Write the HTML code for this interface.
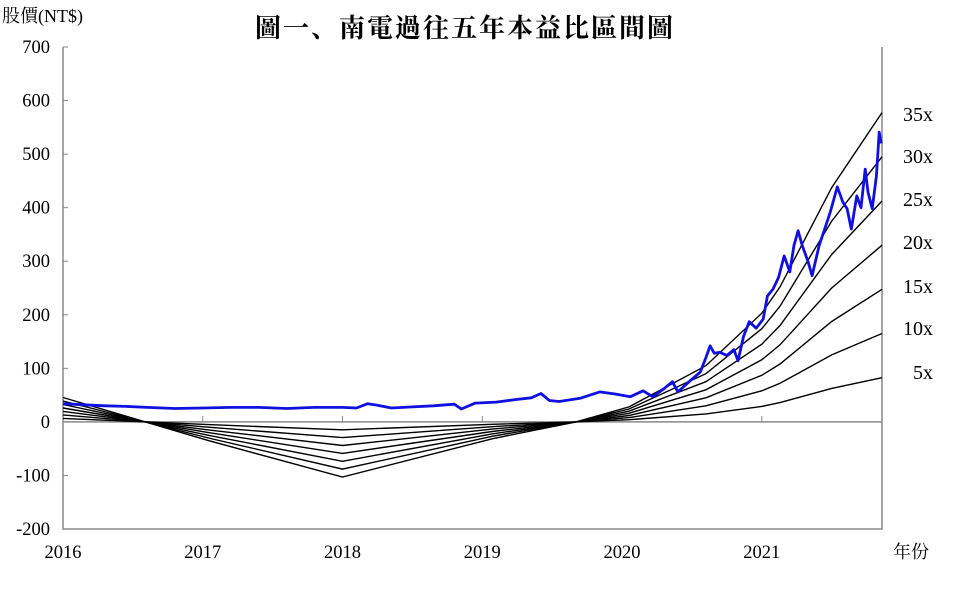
<!DOCTYPE html>
<html><head><meta charset="utf-8"><style>
body{margin:0;background:#fff}
svg text{font-family:"Liberation Serif","Noto Serif CJK SC",serif;fill:#000}
</style></head><body>
<svg width="959" height="584" viewBox="0 0 959 584" xmlns="http://www.w3.org/2000/svg" id="chart"></svg>
<script>
const yTicks=[700,600,500,400,300,200,100,0,-100,-200];
const xTicks=[2016,2017,2018,2019,2020,2021];
const multiples=[5,10,15,20,25,30,35];
const epsYears=[2016,2017.04,2018.0,2019.07,2019.67,2020.05,2020.6,2021.0,2021.13,2021.5,2021.86];
const epsValues=[1.3,-1.0,-2.94,-0.9,0,0.8,3.0,5.8,7.2,12.5,16.5];
const priceYears=[2016,2016.15,2016.3,2016.45,2016.6,2016.8,2017,2017.2,2017.4,2017.6,2017.8,2018.0,2018.1,2018.18,2018.25,2018.35,2018.5,2018.65,2018.8,2018.85,2018.95,2019.1,2019.25,2019.35,2019.42,2019.48,2019.55,2019.7,2019.84,2019.95,2020.06,2020.15,2020.22,2020.3,2020.36,2020.40,2020.48,2020.56,2020.6,2020.63,2020.66,2020.70,2020.75,2020.8,2020.83,2020.87,2020.91,2020.96,2021.01,2021.04,2021.08,2021.12,2021.16,2021.20,2021.23,2021.26,2021.29,2021.33,2021.36,2021.41,2021.45,2021.49,2021.54,2021.58,2021.61,2021.64,2021.68,2021.71,2021.74,2021.76,2021.79,2021.82,2021.84,2021.855];
const priceValues=[34,32,30,29,27,25,26,27,27,25,27,27,26,34,31,26,28,30,33,24,35,37,42,45,53,40,38,44,56,52,47,58,47,62,75,56,75,93,120,142,128,130,124,135,114,160,187,175,192,235,248,270,310,280,330,357,329,300,273,329,360,392,439,410,398,360,422,400,472,429,398,459,541,520];
const multLabels=["5x","10x","15x","20x","25x","30x","35x"];
const X0=63,X1=882,Y0=47,Y1=529;
const xs=v=>X0+(v-2016)/(2021.86-2016)*(X1-X0);
const ys=v=>Y0+(700-v)/900*(Y1-Y0);
const svg=document.getElementById('chart');
const NS="http://www.w3.org/2000/svg";
function mk(t,a,txt){const e=document.createElementNS(NS,t);for(const k in a)e.setAttribute(k,a[k]);if(txt!=null)e.textContent=txt;svg.appendChild(e);return e;}
let e;
e=mk('text',{x:465,y:37,'text-anchor':'middle','font-size':26,'font-weight':'bold','letter-spacing':'2'},'圖一、南電過往五年本益比區間圖');


e=mk('text',{x:2,y:22,'font-size':18},'股價(NT$)');


e=mk('text',{x:893,y:558,'font-size':18},'年份');


e=mk('path',{d:`M${X0},${Y0}V${Y1}H${X1}V${Y0}`,fill:'none',stroke:'#888','stroke-width':1.5});


e=mk('line',{x1:X0,x2:X1,y1:ys(0),y2:ys(0),stroke:'#888','stroke-width':1.5});


yTicks.forEach(v=>{
 e=mk('line',{x1:X0,x2:X0+5,y1:ys(v),y2:ys(v),stroke:'#888'});
 
 
 e=mk('text',{x:50,y:ys(v)+6,'text-anchor':'end','font-size':18.5},String(v));
 
 
});
xTicks.forEach(v=>{
 e=mk('line',{x1:xs(v),x2:xs(v),y1:ys(0),y2:ys(0)-6,stroke:'#888'});
 
 
 e=mk('text',{x:xs(v),y:558,'text-anchor':'middle','font-size':18.5},String(v));
 
 
});
multiples.forEach((m,i)=>{
 const d=epsYears.map((t,j)=>(j?'L':'M')+xs(t).toFixed(1)+','+ys(epsValues[j]*m).toFixed(1)).join('');
 e=mk('path',{d,fill:'none',stroke:'#000','stroke-width':1.4});
 
 
});
const labY=[373,329,287,243,200,157,115];
multLabels.forEach((l,i)=>{
 e=mk('text',{x:933,y:labY[i]+6,'text-anchor':'end','font-size':20},l);
 
 
});
const pd=priceYears.map((t,j)=>(j?'L':'M')+xs(t).toFixed(1)+','+ys(priceValues[j]).toFixed(1)).join('');
e=mk('path',{d:pd,fill:'none',stroke:'#1010e0','stroke-width':2.8,'stroke-linejoin':'round'});


</script>
</body></html>
